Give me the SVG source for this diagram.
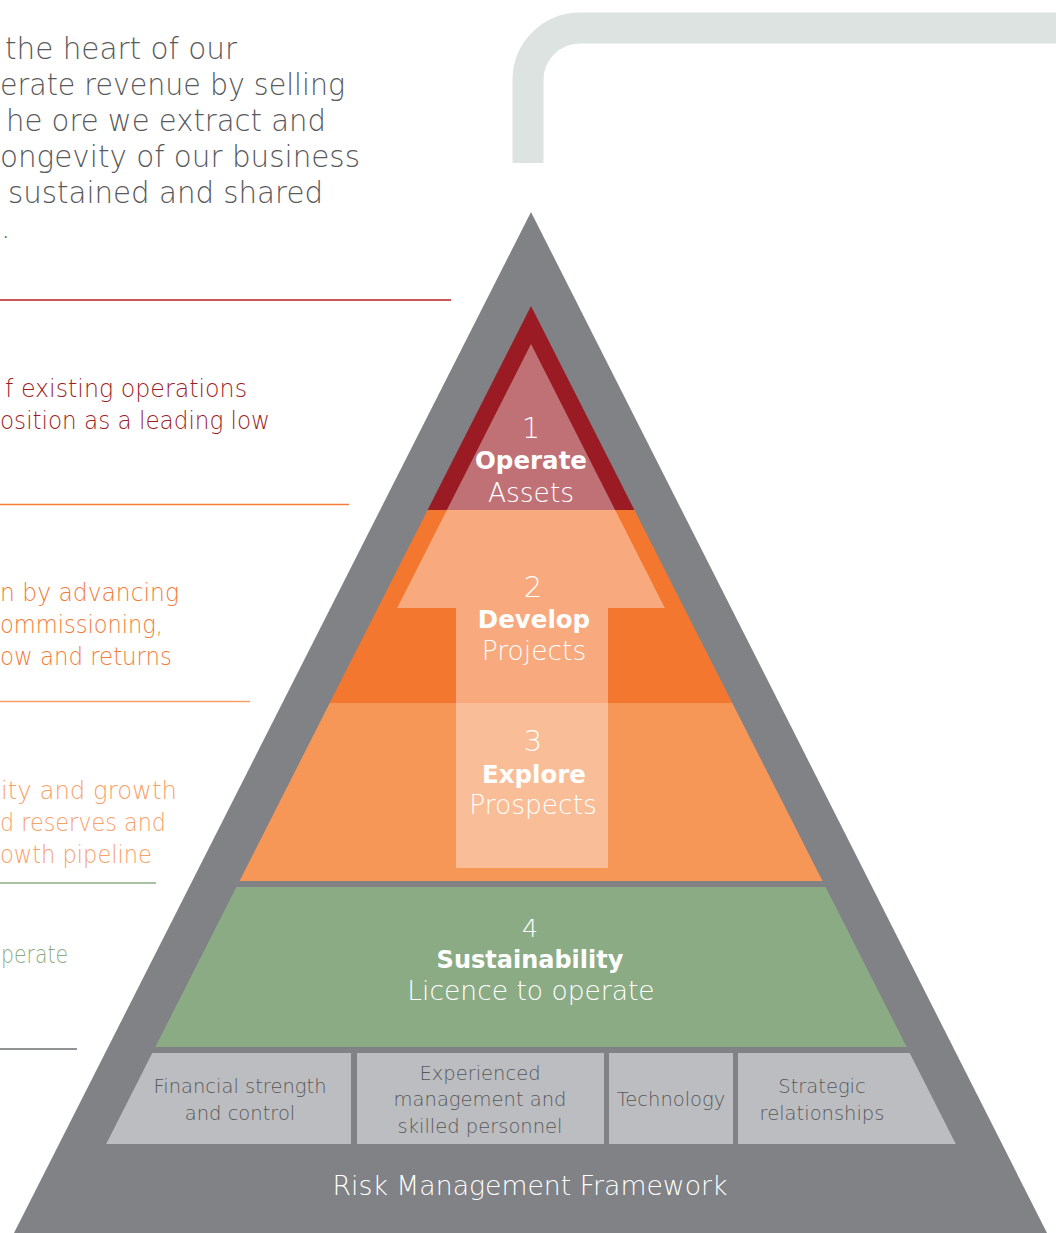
<svg xmlns="http://www.w3.org/2000/svg" width="1056" height="1233" viewBox="0 0 1056 1233">
  <style>
    .lt { font-family: "DejaVu Sans", "Liberation Sans", sans-serif; font-weight: 200; }
    .bd { font-family: "DejaVu Sans", "Liberation Sans", sans-serif; font-weight: 700; }
    .w { fill: #ffffff; }
    .box { fill: #bcbdc0; }
    .boxt { fill: #58595b; font-size: 19.5px; text-anchor: middle; }
    .pc { text-anchor: middle; }
  </style>
  <rect width="1056" height="1233" fill="#ffffff"/>

  <!-- top-right bracket -->
  <path d="M528,163 V80 A52,52 0 0 1 580,28 H1056" fill="none" stroke="#dde3e1" stroke-width="31"/>

  <!-- left narrative text -->
  <g id="intro-text" class="lt" fill="#58595b" font-size="29.5">
    <text x="5" y="59" textLength="232" lengthAdjust="spacingAndGlyphs">the heart of our</text>
    <text x="0" y="95" textLength="345" lengthAdjust="spacingAndGlyphs">erate revenue by selling</text>
    <text x="6" y="131" textLength="320" lengthAdjust="spacingAndGlyphs">he ore we extract and</text>
    <text x="0" y="167" textLength="360" lengthAdjust="spacingAndGlyphs">ongevity of our business</text>
    <text x="8" y="203" textLength="315" lengthAdjust="spacingAndGlyphs">sustained and shared</text>
    <text x="1" y="238">.</text>
  </g>
  <g id="operate-text" class="lt" fill="#9b1c24" font-size="24.5">
    <text x="5" y="397" textLength="242" lengthAdjust="spacingAndGlyphs">f existing operations</text>
    <text x="0" y="429" textLength="270" lengthAdjust="spacingAndGlyphs">osition as a leading low</text>
  </g>
  <g id="develop-text" class="lt" fill="#f47b38" font-size="24.5">
    <text x="0" y="601" textLength="179" lengthAdjust="spacingAndGlyphs">n by advancing</text>
    <text x="0" y="633" textLength="163" lengthAdjust="spacingAndGlyphs">ommissioning,</text>
    <text x="0" y="665" textLength="172" lengthAdjust="spacingAndGlyphs">ow and returns</text>
  </g>
  <g id="explore-text" class="lt" fill="#f8a06a" font-size="24.5">
    <text x="1" y="799" textLength="176" lengthAdjust="spacingAndGlyphs">ity and growth</text>
    <text x="0" y="831" textLength="166" lengthAdjust="spacingAndGlyphs">d reserves and</text>
    <text x="0" y="863" textLength="152" lengthAdjust="spacingAndGlyphs">owth pipeline</text>
  </g>
  <g id="sustain-text" class="lt" fill="#8bab85" font-size="24.5">
    <text x="1" y="963" textLength="67" lengthAdjust="spacingAndGlyphs">perate</text>
  </g>

  <!-- separator rules -->
  <g id="connectors" stroke-width="1.3">
    <line x1="0" y1="300" x2="451" y2="300" stroke="#b81d24"/>
    <line x1="0" y1="504.5" x2="349" y2="504.5" stroke="#f47b38"/>
    <line x1="0" y1="701.5" x2="250" y2="701.5" stroke="#f5a06c"/>
    <line x1="0" y1="883" x2="156" y2="883" stroke="#8bab85"/>
    <line x1="0" y1="1049" x2="77" y2="1049" stroke="#6d6e71"/>
  </g>

  <!-- pyramid frame -->
  <g id="risk-framework">
    <polygon points="531,212 1047,1233 14,1233" fill="#818285"/>
    <text class="lt w pc" x="530" y="1195" font-size="26.7">Risk Management Framework</text>
  </g>

  <g id="layer-operate">
    <polygon points="531,306 634.4,510 427.6,510" fill="#9a1b23"/>
  </g>
  <g id="layer-develop">
    <polygon points="427.6,510 634.4,510 732.3,703 329.7,703" fill="#f47730"/>
  </g>
  <g id="layer-explore">
    <polygon points="329.7,703 732.3,703 822.5,881 239.5,881" fill="#f69657"/>
  </g>
  <g id="layer-sustainability">
    <polygon points="236.4,887 825.6,887 906.7,1047 155.3,1047" fill="#8bab85"/>
    <text class="lt w pc" x="530" y="937" font-size="25">4</text>
    <text class="bd w pc" x="530" y="968" font-size="24">Sustainability</text>
    <text class="lt w pc" x="531" y="1000" font-size="26.5">Licence to operate</text>
  </g>

  <!-- growth arrow overlay -->
  <g id="growth-arrow">
    <polygon points="531,344 664.8,608 608,608 608,868 456,868 456,608 397.2,608" fill="#ffffff" fill-opacity="0.38"/>
  </g>

  <g id="label-operate">
    <text class="lt w pc" x="531" y="438" font-size="29">1</text>
    <text class="bd w pc" x="531" y="469" font-size="24.5">Operate</text>
    <text class="lt w pc" x="531" y="502" font-size="26.5">Assets</text>
  </g>
  <g id="label-develop">
    <text class="lt w pc" x="533" y="597" font-size="29">2</text>
    <text class="bd w pc" x="534" y="628" font-size="24.5">Develop</text>
    <text class="lt w pc" x="534" y="660" font-size="26.5">Projects</text>
  </g>
  <g id="label-explore">
    <text class="lt w pc" x="533" y="751" font-size="29">3</text>
    <text class="bd w pc" x="534" y="783" font-size="24.5">Explore</text>
    <text class="lt w pc" x="533" y="814" font-size="26.5">Prospects</text>
  </g>

  <!-- foundation boxes -->
  <g id="box-financial">
    <polygon class="box" points="152.3,1053 351,1053 351,1144 106.2,1144"/>
    <text class="lt boxt" x="240" y="1093">Financial strength</text>
    <text class="lt boxt" x="240" y="1120">and control</text>
  </g>
  <g id="box-management">
    <rect class="box" x="357" y="1053" width="247" height="91"/>
    <text class="lt boxt" x="480" y="1080">Experienced</text>
    <text class="lt boxt" x="480" y="1106">management and</text>
    <text class="lt boxt" x="480" y="1133">skilled personnel</text>
  </g>
  <g id="box-technology">
    <rect class="box" x="609" y="1053" width="124" height="91"/>
    <text class="lt boxt" x="671" y="1106">Technology</text>
  </g>
  <g id="box-relationships">
    <polygon class="box" points="738,1053 909.7,1053 955.8,1144 738,1144"/>
    <text class="lt boxt" x="822" y="1093">Strategic</text>
    <text class="lt boxt" x="822" y="1120">relationships</text>
  </g>
</svg>
